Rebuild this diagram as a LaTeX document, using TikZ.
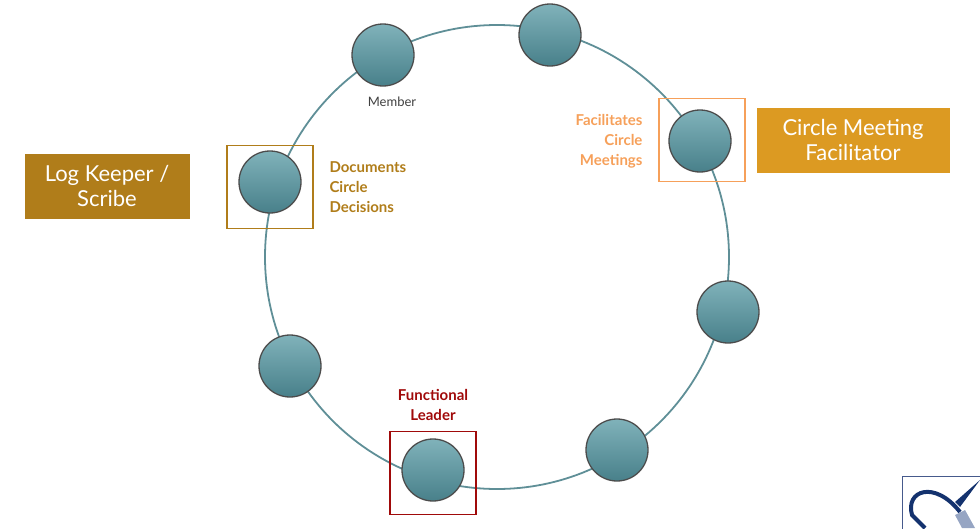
\documentclass[tikz,border=0pt]{standalone}
\usepackage{fontspec}
\setmainfont{Lato}
\definecolor{ring}{RGB}{95,143,151}
\definecolor{gold}{RGB}{176,125,26}
\definecolor{orng}{RGB}{220,154,34}
\definecolor{lorng}{RGB}{246,160,90}
\definecolor{dred}{RGB}{160,10,10}
\definecolor{memtop}{RGB}{128,178,186}
\definecolor{membot}{RGB}{72,128,138}
\definecolor{logob}{RGB}{20,50,110}
\definecolor{logof}{RGB}{70,90,140}
\definecolor{logol}{RGB}{150,165,195}
\begin{document}
\begin{tikzpicture}[x=1pt,y=-1pt,
  mem/.style={circle,minimum size=62pt,inner sep=0pt,draw=black!70,line width=1.3pt,top color=memtop,bottom color=membot},
  hl/.style={draw,line width=1.2pt,minimum width=86pt,minimum height=83pt,inner sep=0pt},
  rolebox/.style={text=white,font=\fontsize{22}{25}\selectfont,align=center,inner sep=0pt},
  lbl/.style={font=\bfseries\fontsize{15}{20}\selectfont}]
\useasboundingbox (0,0) rectangle (980,528);
\draw[ring,line width=1.8pt] (497,257) circle (232);
\node[hl,draw=gold] (h1) at (270,187) {};
\node[hl,draw=lorng] (h2) at (702,140) {};
\node[hl,draw=dred] (h3) at (433,473) {};
\node[mem] (m1) at (383,55) {};
\node[mem] (m2) at (550,35) {};
\node[mem] (m3) at (700,141) {};
\node[mem] (m4) at (270,182) {};
\node[mem] (m5) at (728,312) {};
\node[mem] (m6) at (290,366) {};
\node[mem] (m7) at (433,470) {};
\node[mem] (m8) at (617,450) {};
\node[font=\fontsize{13}{15}\selectfont,text=black!75] (mlab) at (392,102) {Member};
\node[rolebox,fill=gold,minimum width=165pt,minimum height=65pt] (lk) at (107,186) {Log Keeper /\\Scribe};
\node[rolebox,fill=orng,minimum width=193pt,minimum height=65pt] (cf) at (853,140) {Circle Meeting\\Facilitator};
\node[lbl,text=gold,align=left,anchor=west] (l1) at (326,187) {Documents\\Circle\\Decisions};
\node[lbl,text=lorng,align=right,anchor=east] (l2) at (646,141) {Facilitates\\Circle\\Meetings};
\node[lbl,text=dred,align=center] (l3) at (433,405) {Functional\\Leader};
% logo
\node[draw=logof,line width=0.8pt,minimum width=80pt,minimum height=60pt,anchor=north west] (logo) at (902,476) {};
\draw[line width=4pt,logob] (960,512) .. controls (935,480) and (905,490) .. (912,515) -- (925,528);
\fill[logob] (955,502) -- (980,480) -- (960,507) -- cycle;
\fill[logol] (955,515) -- (965,510) -- (975,528) -- (962,528) -- cycle;
\end{tikzpicture}
\end{document}
